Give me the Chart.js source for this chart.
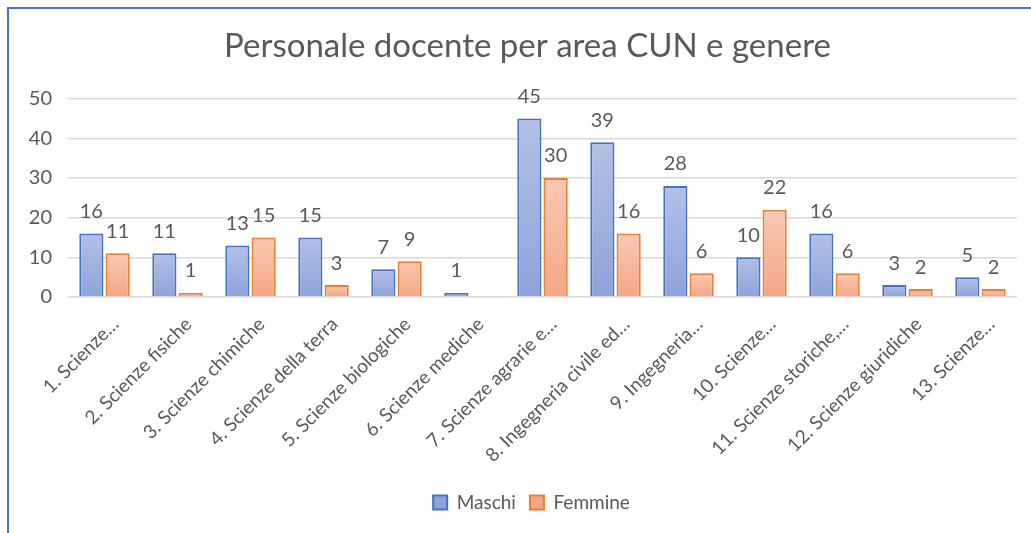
<!DOCTYPE html>
<html>
<head>
<meta charset="utf-8">
<script src="https://cdn.jsdelivr.net/npm/chart.js@4/dist/chart.umd.min.js"></script>
<style>
  html,body{margin:0;padding:0;background:#fff;overflow:hidden;}
  #wrap{position:absolute;left:0;top:0;width:1031px;height:533px;}
  #frame{position:absolute;left:7px;top:7px;right:0;bottom:0;
         border-top:2px solid #4472c4;border-left:2px solid #4472c4;pointer-events:none;}
</style>
</head>
<body>
<div id="wrap"><canvas id="c" width="1031" height="533"></canvas></div>
<div id="frame"></div>
<script>
// ── DATA ──
const categories = [
  '1. Scienze…', '2. Scienze fisiche', '3. Scienze chimiche', '4. Scienze della terra',
  '5. Scienze biologiche', '6. Scienze mediche', '7. Scienze agrarie e…',
  '8. Ingegneria civile ed…', '9. Ingegneria…', '10. Scienze…',
  '11. Scienze storiche,…', '12. Scienze giuridiche', '13. Scienze…'
];
const maschi  = [16, 11, 13, 15, 7, 1, 45, 39, 28, 10, 16, 3, 5];
const femmine = [11, 1, 15, 3, 9, null, 30, 16, 6, 22, 6, 2, 2];
const yTicks  = [0, 10, 20, 30, 40, 50];

const GREY = '#595959';
const FONT = "Lato, 'Open Sans', sans-serif";

// vertical gradient for each bar, lighter at the top
function barFill(top, bottom){
  return ctx => {
    const chart = ctx.chart, area = chart.chartArea;
    if(!area || !ctx.parsed) return bottom;
    const y = chart.scales.y;
    const y0 = y.getPixelForValue(ctx.parsed.y), y1 = y.getPixelForValue(0);
    if(!(y1 > y0)) return bottom;
    const g = chart.ctx.createLinearGradient(0, y0, 0, y1);
    g.addColorStop(0, top); g.addColorStop(1, bottom);
    return g;
  };
}

// value labels above bars
const valueLabels = {
  id:'valueLabels',
  afterDatasetsDraw(chart){
    const c = chart.ctx;
    c.save();
    c.fillStyle = GREY;
    c.font = '20px ' + FONT;
    c.textAlign = 'center';
    c.textBaseline = 'middle';
    chart.data.datasets.forEach((ds, i) => {
      chart.getDatasetMeta(i).data.forEach((bar, j) => {
        const v = ds.data[j];
        if(v === null || v === undefined) return;
        c.fillText(String(v), bar.x, bar.y - 22);
      });
    });
    c.restore();
  }
};

// nudge title and legend a bit right, like the original sheet
const nudge = {
  id:'nudge',
  afterLayout(chart){
    const shift = (box, dx) => { if(box){ box.left += dx; box.right += dx; } };
    shift(chart.titleBlock, 9);
    shift(chart.legend, 13);
  }
};

new Chart(document.getElementById('c').getContext('2d'), {
  type:'bar',
  data:{
    labels:categories,
    datasets:[
      {label:'Maschi', data:maschi, backgroundColor:barFill('#b3c0e7', '#8ea3d9'),
       borderColor:'#4472c4', borderWidth:2},
      {label:'Femmine', data:femmine, backgroundColor:barFill('#f9c9b4', '#f4a784'),
       borderColor:'#ed7d31', borderWidth:2}
    ]
  },
  options:{
    responsive:false, animation:false,
    categoryPercentage:0.72, barPercentage:0.92,
    layout:{padding:{top:27, left:20, right:14, bottom:11}},
    plugins:{
      title:{display:true, text:'Personale docente per area CUN e genere', color:GREY,
             font:{family:FONT, size:33, weight:'normal'}, padding:{top:0, bottom:32}},
      legend:{position:'bottom',
              labels:{color:GREY, font:{family:FONT, size:19}, boxWidth:14, boxHeight:14, padding:14}},
      tooltip:{enabled:false}
    },
    scales:{
      x:{
        grid:{display:false}, border:{display:false},
        ticks:{color:GREY, font:{family:FONT, size:19}, minRotation:45, maxRotation:45,
               autoSkip:false, labelOffset:11, padding:8},
        afterFit:s => { s.height = 182; }
      },
      y:{
        min:0, max:50,
        grid:{color:'#d9d9d9', lineWidth:1.5, drawTicks:false}, border:{display:false},
        afterBuildTicks:s => { s.ticks = yTicks.map(v => ({value:v})); },
        ticks:{color:GREY, font:{family:FONT, size:20}, padding:16},
        afterFit:s => { s.width = 48; }
      }
    }
  },
  plugins:[valueLabels, nudge]
});
</script>
</body>
</html>
